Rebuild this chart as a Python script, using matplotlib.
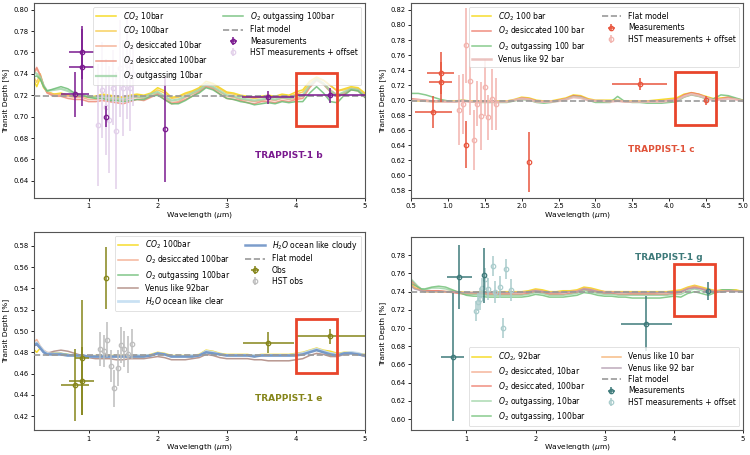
import matplotlib
matplotlib.use("Agg")
import matplotlib.pyplot as plt
from matplotlib.patches import Rectangle

plt.rcParams['font.family'] = ['DejaVu Sans']
plt.rcParams['font.size'] = 5.5

# ---------------- common wavelength grid of the model spectra (micron) ----------------
wl = [0.2, 0.25, 0.3, 0.35, 0.4, 0.5, 0.6, 0.7, 0.8, 0.9, 1.0, 1.1, 1.2, 1.3, 1.4, 1.5, 1.6,
      1.7, 1.8, 1.9, 2.0, 2.1, 2.2, 2.3, 2.4, 2.5, 2.6, 2.7, 2.8, 2.9, 3.0, 3.1, 3.2, 3.3,
      3.4, 3.5, 3.6, 3.7, 3.8, 3.9, 4.0, 4.1, 4.2, 4.3, 4.4, 4.5, 4.6, 4.7, 4.8, 4.9, 5.0]

# ---------------- TRAPPIST-1 b ----------------
b_co2_10 = [0.735, 0.728, 0.736, 0.727, 0.723, 0.721, 0.722, 0.720, 0.719, 0.720, 0.718, 0.719, 0.721, 0.720, 0.719, 0.718, 0.720,
            0.721, 0.720, 0.722, 0.727, 0.724, 0.718, 0.719, 0.722, 0.724, 0.727, 0.733, 0.731, 0.727, 0.723, 0.722, 0.720, 0.719,
            0.718, 0.719, 0.720, 0.719, 0.721, 0.720, 0.723, 0.725, 0.733, 0.737, 0.734, 0.729, 0.724, 0.726, 0.728, 0.727, 0.722]
b_co2_100 = [0.738, 0.732, 0.740, 0.729, 0.723, 0.721, 0.721, 0.720, 0.719, 0.719, 0.718, 0.719, 0.720, 0.719, 0.718, 0.718, 0.719,
             0.720, 0.719, 0.721, 0.725, 0.722, 0.717, 0.718, 0.721, 0.723, 0.726, 0.731, 0.730, 0.726, 0.722, 0.721, 0.719, 0.718,
             0.717, 0.718, 0.719, 0.718, 0.720, 0.719, 0.721, 0.723, 0.731, 0.736, 0.734, 0.729, 0.724, 0.725, 0.727, 0.726, 0.721]
b_o2des_10 = [0.738, 0.745, 0.738, 0.728, 0.723, 0.720, 0.720, 0.719, 0.718, 0.718, 0.716, 0.716, 0.717, 0.716, 0.716, 0.715, 0.717,
              0.718, 0.717, 0.719, 0.722, 0.718, 0.713, 0.714, 0.718, 0.721, 0.724, 0.729, 0.727, 0.723, 0.719, 0.718, 0.716, 0.715,
              0.714, 0.715, 0.716, 0.715, 0.717, 0.716, 0.717, 0.719, 0.728, 0.735, 0.731, 0.725, 0.720, 0.722, 0.726, 0.725, 0.719]
b_o2des_100 = [0.740, 0.746, 0.739, 0.729, 0.722, 0.719, 0.719, 0.717, 0.716, 0.716, 0.714, 0.714, 0.715, 0.714, 0.713, 0.712, 0.714,
               0.716, 0.715, 0.718, 0.721, 0.716, 0.712, 0.713, 0.716, 0.719, 0.723, 0.728, 0.726, 0.721, 0.717, 0.716, 0.715, 0.713,
               0.712, 0.714, 0.714, 0.713, 0.715, 0.714, 0.716, 0.717, 0.727, 0.734, 0.730, 0.723, 0.719, 0.721, 0.725, 0.724, 0.718]
b_o2out_10 = [0.742, 0.740, 0.737, 0.729, 0.724, 0.725, 0.726, 0.724, 0.721, 0.720, 0.719, 0.718, 0.719, 0.717, 0.717, 0.716, 0.718,
              0.719, 0.718, 0.721, 0.723, 0.719, 0.715, 0.716, 0.719, 0.722, 0.725, 0.730, 0.728, 0.724, 0.720, 0.719, 0.717, 0.716,
              0.715, 0.716, 0.717, 0.716, 0.718, 0.717, 0.719, 0.720, 0.729, 0.735, 0.731, 0.724, 0.720, 0.723, 0.726, 0.725, 0.719]
b_o2out_100 = [0.737, 0.738, 0.735, 0.728, 0.724, 0.726, 0.728, 0.726, 0.722, 0.720, 0.718, 0.717, 0.717, 0.715, 0.715, 0.714, 0.715,
               0.716, 0.716, 0.719, 0.720, 0.716, 0.712, 0.712, 0.715, 0.719, 0.722, 0.727, 0.725, 0.721, 0.717, 0.716, 0.714, 0.713,
               0.711, 0.712, 0.713, 0.712, 0.714, 0.713, 0.714, 0.714, 0.722, 0.728, 0.722, 0.714, 0.713, 0.720, 0.725, 0.724, 0.718]
b_flat = 0.719
b_obs_x = [0.8, 0.9, 0.9, 1.25, 2.1, 3.6, 4.5]
b_obs_y = [0.721, 0.760, 0.746, 0.700, 0.688, 0.718, 0.720]
b_obs_xerr = [0.2, 0.18, 0.18, 0.0, 0.0, 0.38, 0.5]
b_obs_yerr = [0.021, 0.025, 0.036, 0.010, 0.049, 0.006, 0.007]
b_hst_x = [1.14, 1.20, 1.25, 1.30, 1.35, 1.40, 1.45, 1.50, 1.55, 1.60, 1.65]
b_hst_y = [0.692, 0.725, 0.709, 0.697, 0.727, 0.687, 0.745, 0.727, 0.748, 0.727, 0.740]
b_hst_yerr = [0.057, 0.045, 0.045, 0.050, 0.035, 0.055, 0.045, 0.045, 0.050, 0.040, 0.030]

# ---------------- TRAPPIST-1 c ----------------
c_co2_100 = [0.700, 0.700, 0.700, 0.700, 0.700, 0.700, 0.699, 0.699, 0.698, 0.698, 0.699, 0.699, 0.700, 0.699, 0.699, 0.699, 0.699,
             0.699, 0.699, 0.701, 0.704, 0.703, 0.700, 0.699, 0.699, 0.701, 0.703, 0.707, 0.706, 0.702, 0.700, 0.700, 0.700, 0.700,
             0.699, 0.699, 0.699, 0.699, 0.700, 0.701, 0.702, 0.703, 0.708, 0.710, 0.708, 0.705, 0.702, 0.703, 0.704, 0.702, 0.700]
c_o2des_100 = [0.704, 0.705, 0.704, 0.703, 0.702, 0.702, 0.701, 0.700, 0.699, 0.699, 0.698, 0.698, 0.699, 0.698, 0.698, 0.698, 0.698,
               0.698, 0.698, 0.700, 0.703, 0.702, 0.699, 0.698, 0.698, 0.700, 0.702, 0.706, 0.705, 0.701, 0.699, 0.699, 0.699, 0.699,
               0.698, 0.698, 0.698, 0.698, 0.699, 0.699, 0.700, 0.701, 0.707, 0.710, 0.708, 0.704, 0.701, 0.702, 0.704, 0.702, 0.699]
c_o2out_100 = [0.705, 0.706, 0.707, 0.708, 0.708, 0.709, 0.709, 0.707, 0.704, 0.701, 0.699, 0.698, 0.700, 0.698, 0.697, 0.697, 0.697,
               0.697, 0.697, 0.699, 0.701, 0.700, 0.697, 0.696, 0.697, 0.699, 0.701, 0.705, 0.704, 0.700, 0.697, 0.697, 0.697, 0.705,
               0.698, 0.697, 0.697, 0.696, 0.696, 0.696, 0.697, 0.698, 0.704, 0.707, 0.705, 0.702, 0.702, 0.707, 0.706, 0.703, 0.700]
c_venus_92 = [0.701, 0.702, 0.702, 0.701, 0.701, 0.700, 0.700, 0.699, 0.698, 0.698, 0.698, 0.698, 0.699, 0.698, 0.698, 0.698, 0.698,
              0.698, 0.698, 0.700, 0.702, 0.701, 0.698, 0.698, 0.698, 0.699, 0.701, 0.704, 0.703, 0.700, 0.699, 0.699, 0.698, 0.699,
              0.698, 0.698, 0.698, 0.698, 0.698, 0.698, 0.699, 0.700, 0.705, 0.708, 0.706, 0.703, 0.700, 0.701, 0.702, 0.701, 0.699]
c_flat = 0.699
c_obs_x = [0.8, 0.9, 0.9, 1.25, 2.1, 3.6, 4.5]
c_obs_y = [0.684, 0.736, 0.724, 0.641, 0.618, 0.721, 0.700]
c_obs_xerr = [0.25, 0.18, 0.15, 0.0, 0.0, 0.37, 0.0]
c_obs_yerr = [0.021, 0.028, 0.027, 0.031, 0.040, 0.008, 0.006]
c_hst_x = [1.15, 1.20, 1.25, 1.30, 1.35, 1.40, 1.45, 1.50, 1.55, 1.60, 1.65]
c_hst_y = [0.687, 0.695, 0.773, 0.725, 0.647, 0.695, 0.679, 0.717, 0.677, 0.701, 0.695]
c_hst_yerr = [0.046, 0.040, 0.050, 0.045, 0.040, 0.030, 0.045, 0.038, 0.030, 0.040, 0.035]

# ---------------- TRAPPIST-1 e ----------------
e_co2_100 = [0.483, 0.480, 0.484, 0.481, 0.479, 0.478, 0.478, 0.477, 0.477, 0.476, 0.476, 0.477, 0.477, 0.477, 0.477, 0.477, 0.477,
             0.477, 0.477, 0.478, 0.480, 0.479, 0.477, 0.477, 0.477, 0.477, 0.478, 0.482, 0.481, 0.479, 0.478, 0.478, 0.478, 0.478,
             0.477, 0.478, 0.478, 0.478, 0.478, 0.478, 0.479, 0.480, 0.482, 0.484, 0.482, 0.481, 0.479, 0.480, 0.480, 0.479, 0.478]
e_o2des_100 = [0.489, 0.492, 0.486, 0.482, 0.480, 0.479, 0.479, 0.478, 0.477, 0.477, 0.476, 0.476, 0.477, 0.476, 0.476, 0.476, 0.476,
               0.476, 0.476, 0.477, 0.479, 0.478, 0.476, 0.476, 0.476, 0.476, 0.477, 0.481, 0.480, 0.478, 0.477, 0.477, 0.477, 0.477,
               0.476, 0.477, 0.477, 0.477, 0.477, 0.477, 0.478, 0.479, 0.481, 0.483, 0.481, 0.479, 0.478, 0.479, 0.480, 0.479, 0.477]
e_o2out_100 = [0.487, 0.489, 0.485, 0.481, 0.479, 0.479, 0.479, 0.478, 0.477, 0.477, 0.476, 0.476, 0.476, 0.476, 0.476, 0.476, 0.476,
               0.476, 0.476, 0.477, 0.479, 0.478, 0.476, 0.476, 0.476, 0.476, 0.477, 0.480, 0.479, 0.478, 0.477, 0.477, 0.477, 0.477,
               0.476, 0.477, 0.477, 0.477, 0.477, 0.477, 0.477, 0.478, 0.481, 0.482, 0.480, 0.479, 0.478, 0.479, 0.479, 0.478, 0.477]
e_venus_92 = [0.486, 0.487, 0.484, 0.480, 0.479, 0.481, 0.482, 0.481, 0.479, 0.477, 0.475, 0.474, 0.474, 0.474, 0.473, 0.473, 0.474,
              0.474, 0.474, 0.475, 0.476, 0.475, 0.473, 0.473, 0.473, 0.474, 0.475, 0.478, 0.477, 0.475, 0.474, 0.474, 0.474, 0.474,
              0.473, 0.473, 0.472, 0.472, 0.472, 0.472, 0.473, 0.474, 0.477, 0.479, 0.478, 0.476, 0.476, 0.478, 0.479, 0.478, 0.476]
e_h2o_clear = [0.487, 0.489, 0.485, 0.481, 0.479, 0.478, 0.478, 0.477, 0.477, 0.477, 0.476, 0.476, 0.477, 0.476, 0.476, 0.476, 0.477,
               0.477, 0.477, 0.477, 0.479, 0.478, 0.476, 0.476, 0.476, 0.477, 0.477, 0.481, 0.480, 0.478, 0.477, 0.477, 0.477, 0.477,
               0.477, 0.477, 0.477, 0.477, 0.477, 0.477, 0.478, 0.479, 0.481, 0.483, 0.481, 0.479, 0.478, 0.479, 0.480, 0.479, 0.477]
e_h2o_cloudy = [0.486, 0.488, 0.484, 0.480, 0.478, 0.478, 0.478, 0.477, 0.477, 0.477, 0.476, 0.476, 0.476, 0.476, 0.476, 0.476, 0.476,
                0.476, 0.476, 0.477, 0.479, 0.478, 0.476, 0.476, 0.476, 0.476, 0.477, 0.480, 0.479, 0.478, 0.477, 0.477, 0.477, 0.477,
                0.476, 0.477, 0.477, 0.477, 0.477, 0.477, 0.477, 0.478, 0.480, 0.482, 0.480, 0.478, 0.477, 0.479, 0.479, 0.478, 0.477]
e_flat = 0.477
e_obs_x = [0.8, 0.9, 0.9, 1.25, 3.6, 4.5]
e_obs_y = [0.449, 0.475, 0.453, 0.550, 0.489, 0.495]
e_obs_xerr = [0.2, 0.1, 0.18, 0.0, 0.37, 0.5]
e_obs_yerr = [0.034, 0.054, 0.032, 0.029, 0.010, 0.007]
e_hst_x = [1.17, 1.22, 1.27, 1.32, 1.37, 1.43, 1.47, 1.52, 1.57, 1.63]
e_hst_y = [0.483, 0.481, 0.492, 0.467, 0.446, 0.465, 0.487, 0.483, 0.478, 0.488]
e_hst_yerr = [0.016, 0.015, 0.016, 0.015, 0.017, 0.017, 0.017, 0.017, 0.017, 0.014]

# ---------------- TRAPPIST-1 g ----------------
g_co2_92 = [0.750, 0.744, 0.743, 0.741, 0.740, 0.740, 0.740, 0.740, 0.740, 0.740, 0.739, 0.739, 0.740, 0.740, 0.739, 0.740, 0.740,
            0.740, 0.740, 0.741, 0.743, 0.742, 0.740, 0.740, 0.741, 0.741, 0.742, 0.745, 0.744, 0.742, 0.740, 0.740, 0.740, 0.740,
            0.740, 0.740, 0.740, 0.740, 0.740, 0.740, 0.741, 0.742, 0.745, 0.747, 0.745, 0.743, 0.741, 0.742, 0.742, 0.742, 0.740]
g_o2des_10 = [0.752, 0.748, 0.745, 0.742, 0.741, 0.741, 0.741, 0.740, 0.740, 0.739, 0.738, 0.738, 0.739, 0.738, 0.738, 0.738, 0.738,
              0.739, 0.739, 0.739, 0.741, 0.740, 0.738, 0.738, 0.739, 0.740, 0.741, 0.743, 0.742, 0.740, 0.739, 0.739, 0.739, 0.739,
              0.738, 0.738, 0.738, 0.738, 0.739, 0.739, 0.739, 0.740, 0.744, 0.746, 0.744, 0.741, 0.740, 0.741, 0.741, 0.741, 0.740]
g_o2des_100 = [0.753, 0.749, 0.745, 0.742, 0.741, 0.741, 0.741, 0.740, 0.739, 0.738, 0.737, 0.737, 0.738, 0.737, 0.737, 0.737, 0.737,
               0.737, 0.737, 0.738, 0.740, 0.739, 0.737, 0.737, 0.737, 0.738, 0.739, 0.742, 0.741, 0.739, 0.738, 0.738, 0.737, 0.737,
               0.737, 0.737, 0.737, 0.737, 0.737, 0.737, 0.738, 0.739, 0.743, 0.745, 0.743, 0.740, 0.739, 0.740, 0.741, 0.741, 0.740]
g_o2out_10 = [0.754, 0.750, 0.746, 0.743, 0.742, 0.744, 0.744, 0.743, 0.741, 0.739, 0.737, 0.737, 0.737, 0.736, 0.736, 0.736, 0.736,
              0.736, 0.736, 0.737, 0.739, 0.738, 0.736, 0.736, 0.736, 0.737, 0.738, 0.741, 0.740, 0.738, 0.737, 0.737, 0.736, 0.736,
              0.736, 0.736, 0.736, 0.736, 0.736, 0.736, 0.737, 0.737, 0.741, 0.743, 0.741, 0.739, 0.740, 0.742, 0.742, 0.741, 0.740]
g_o2out_100 = [0.749, 0.747, 0.745, 0.743, 0.743, 0.745, 0.746, 0.745, 0.742, 0.739, 0.736, 0.735, 0.735, 0.734, 0.734, 0.734, 0.734,
               0.734, 0.734, 0.735, 0.737, 0.736, 0.734, 0.734, 0.734, 0.735, 0.736, 0.739, 0.738, 0.736, 0.735, 0.735, 0.734, 0.734,
               0.733, 0.733, 0.733, 0.733, 0.733, 0.734, 0.735, 0.734, 0.738, 0.740, 0.738, 0.736, 0.739, 0.742, 0.742, 0.741, 0.740]
g_venus_10 = [0.748, 0.745, 0.743, 0.741, 0.740, 0.740, 0.740, 0.740, 0.740, 0.739, 0.739, 0.739, 0.739, 0.739, 0.739, 0.739, 0.739,
              0.739, 0.739, 0.740, 0.742, 0.741, 0.739, 0.739, 0.740, 0.740, 0.741, 0.744, 0.743, 0.741, 0.740, 0.740, 0.739, 0.739,
              0.739, 0.739, 0.739, 0.739, 0.739, 0.739, 0.740, 0.741, 0.744, 0.746, 0.744, 0.742, 0.741, 0.741, 0.741, 0.741, 0.740]
g_venus_92 = [0.746, 0.743, 0.742, 0.741, 0.740, 0.740, 0.740, 0.740, 0.740, 0.739, 0.739, 0.739, 0.739, 0.739, 0.739, 0.739, 0.739,
              0.739, 0.739, 0.740, 0.741, 0.740, 0.739, 0.739, 0.739, 0.740, 0.740, 0.743, 0.742, 0.740, 0.739, 0.739, 0.739, 0.739,
              0.739, 0.739, 0.739, 0.739, 0.739, 0.739, 0.739, 0.740, 0.743, 0.744, 0.743, 0.741, 0.740, 0.740, 0.741, 0.740, 0.740]
g_flat = 0.740
g_obs_x = [0.8, 0.9, 1.25, 3.6, 4.5]
g_obs_y = [0.668, 0.756, 0.758, 0.705, 0.741]
g_obs_xerr = [0.17, 0.18, 0.0, 0.37, 0.0]
g_obs_yerr = [0.070, 0.035, 0.030, 0.030, 0.010]
g_hst_x = [1.14, 1.17, 1.20, 1.22, 1.27, 1.31, 1.38, 1.41, 1.48, 1.53, 1.58, 1.64]
g_hst_y = [0.719, 0.729, 0.732, 0.744, 0.754, 0.743, 0.768, 0.740, 0.745, 0.700, 0.765, 0.742]
g_hst_yerr = [0.011, 0.010, 0.012, 0.011, 0.012, 0.012, 0.011, 0.012, 0.012, 0.011, 0.011, 0.012]

# ---------------- drawing ----------------
fig = plt.figure(figsize=(7.5, 4.55), dpi=100)
ax_b = fig.add_axes([0.0453, 0.565, 0.4413, 0.428])
ax_c = fig.add_axes([0.548, 0.565, 0.4427, 0.428])
ax_e = fig.add_axes([0.0453, 0.055, 0.4413, 0.435])
ax_g = fig.add_axes([0.548, 0.055, 0.4427, 0.424])

def models(ax, specs):
    for y, lab, col, lw, al in specs:
        ax.plot(wl, y, color=col, lw=lw, alpha=al, label=lab)

def flat(ax, val):
    ax.axhline(val, color='#999999', ls='--', lw=1.2, label='Flat model', zorder=3)

def obs(ax, x, y, xe, ye, hx, hy, hye, col, hcol, lab, hlab, mk='o'):
    ax.errorbar(x, y, xerr=xe, yerr=ye, fmt=mk, color=col, mfc='none', ms=3.2, mew=0.9,
                elinewidth=1.1, capsize=0, label=lab, zorder=5)
    ax.errorbar(hx, hy, yerr=hye, fmt=mk, color=hcol, mfc='none', ms=3.2, mew=0.9,
                elinewidth=1.1, capsize=0, label=hlab, zorder=4)

def finish(ax, xlim, ylim, yticks, xticks, xtl, title, tx, ty, tcol, rect, legloc, ylab_x):
    ax.set_xlim(*xlim)
    ax.set_ylim(*ylim)
    ax.set_yticks(yticks)
    ax.set_yticklabels(['%.2f' % v for v in yticks])
    ax.set_xticks(xticks)
    ax.set_xticklabels(xtl)
    ax.tick_params(labelsize=4.9, length=2.5, width=0.6, pad=1.5)
    ax.set_xlabel(r'Wavelength ($\mu$m)', fontsize=5.4, labelpad=0.5)
    ax.set_ylabel('Transit Depth [%]', fontsize=5.3)
    ax.yaxis.set_label_coords(ylab_x, 0.5)
    for s in ax.spines.values():
        s.set_color('#555555')
        s.set_linewidth(0.8)
    ax.text(tx, ty, title, color=tcol, fontsize=6.5, fontweight='bold', ha='center', va='center')
    ax.add_patch(Rectangle((rect[0], rect[1]), rect[2], rect[3], fill=False,
                           edgecolor='#e8452b', lw=2.0, zorder=6))
    leg = ax.legend(loc=legloc, ncol=2, fontsize=5.5, handlelength=2.6, columnspacing=2.0,
                    labelspacing=0.3, borderpad=0.4, handletextpad=0.9)
    leg.get_frame().set_linewidth(0.5)

# b
models(ax_b, [
    (b_co2_10, r'$CO_2$ 10bar', '#f5d60a', 1.1, 0.85),
    (b_co2_100, r'$CO_2$ 100bar', '#f7c843', 1.1, 0.85),
    (b_o2des_10, r'$O_2$ desiccated 10bar', '#f4a98a', 1.1, 0.85),
    (b_o2des_100, r'$O_2$ desiccated 100bar', '#ee8b78', 1.1, 0.85),
    (b_o2out_10, r'$O_2$ outgassing 10bar', '#9cd3a4', 1.6, 0.8),
    (b_o2out_100, r'$O_2$ outgassing 100bar', '#6cbd74', 1.1, 0.85),
])
flat(ax_b, b_flat)
obs(ax_b, b_obs_x, b_obs_y, b_obs_xerr, b_obs_yerr, b_hst_x, b_hst_y, b_hst_yerr,
    '#7a1a8f', '#e2d0ea', 'Measurements', 'HST measurements + offset')
finish(ax_b, (0.21, 5.0), (0.624, 0.806), [0.64, 0.66, 0.68, 0.70, 0.72, 0.74, 0.76, 0.78, 0.80],
       [1, 2, 3, 4, 5], ['1', '2', '3', '4', '5'], 'TRAPPIST-1 b', 3.9, 0.664, '#7a1a8f',
       (4.0, 0.691, 0.6, 0.050), 'upper right', -0.074)

# c
models(ax_c, [
    (c_co2_100, r'$CO_2$ 100 bar', '#f5d60a', 1.1, 0.85),
    (c_o2des_100, r'$O_2$ desiccated 100 bar', '#ee7a6a', 1.1, 0.85),
    (c_o2out_100, r'$O_2$ outgassing 100 bar', '#74c27a', 1.1, 0.85),
    (c_venus_92, r'Venus like 92 bar', '#e8b8b4', 1.8, 0.85),
])
flat(ax_c, c_flat)
obs(ax_c, c_obs_x, c_obs_y, c_obs_xerr, c_obs_yerr, c_hst_x, c_hst_y, c_hst_yerr,
    '#e8553d', '#f2b3ad', 'Measurements', 'HST measurements + offset')
c_yt = [0.58, 0.60, 0.62, 0.64, 0.66, 0.68, 0.70, 0.72, 0.74, 0.76, 0.78, 0.80, 0.82]
c_xt = [0.5, 1.0, 1.5, 2.0, 2.5, 3.0, 3.5, 4.0, 4.5, 5.0]
finish(ax_c, (0.5, 5.0), (0.570, 0.829), c_yt, c_xt, ['%.1f' % v for v in c_xt],
       'TRAPPIST-1 c', 3.89, 0.634, '#e0533a', (4.08, 0.667, 0.56, 0.070), 'upper right', -0.074)

# e
models(ax_e, [
    (e_co2_100, r'$CO_2$ 100bar', '#f5d60a', 1.1, 0.85),
    (e_o2des_100, r'$O_2$ desiccated 100bar', '#f4a98a', 1.1, 0.85),
    (e_o2out_100, r'$O_2$ outgassing 100bar', '#6cbd74', 1.1, 0.85),
    (e_venus_92, r'Venus like 92bar', '#b08c84', 1.1, 0.9),
    (e_h2o_clear, r'$H_2O$ ocean like clear', '#c4def2', 2.0, 0.9),
    (e_h2o_cloudy, r'$H_2O$ ocean like cloudy', '#6e92c6', 1.8, 0.9),
])
flat(ax_e, e_flat)
obs(ax_e, e_obs_x, e_obs_y, e_obs_xerr, e_obs_yerr, e_hst_x, e_hst_y, e_hst_yerr,
    '#85851a', '#bdbdbd', 'Obs', 'HST obs')
finish(ax_e, (0.21, 5.0), (0.407, 0.593), [0.42, 0.44, 0.46, 0.48, 0.50, 0.52, 0.54, 0.56, 0.58],
       [1, 2, 3, 4, 5], ['1', '2', '3', '4', '5'], 'TRAPPIST-1 e', 3.9, 0.437, '#85851a',
       (4.0, 0.461, 0.6, 0.050), 'upper right', -0.074)

# g
models(ax_g, [
    (g_co2_92, r'$CO_2$, 92bar', '#f5d60a', 1.1, 0.85),
    (g_o2des_10, r'$O_2$ desiccated, 10bar', '#f4a98a', 1.1, 0.85),
    (g_o2des_100, r'$O_2$ desiccated, 100bar', '#ee7a6a', 1.1, 0.85),
    (g_o2out_10, r'$O_2$ outgassing, 10bar', '#9cd3a4', 1.1, 0.85),
    (g_o2out_100, r'$O_2$ outgassing, 100bar', '#74c27a', 1.1, 0.85),
    (g_venus_10, r'Venus like 10 bar', '#f5b070', 1.1, 0.85),
    (g_venus_92, r'Venus like 92 bar', '#b29aae', 1.1, 0.85),
])
flat(ax_g, g_flat)
obs(ax_g, g_obs_x, g_obs_y, g_obs_xerr, g_obs_yerr, g_hst_x, g_hst_y, g_hst_yerr,
    '#3e7a7a', '#a9cccc', 'Measurements', 'HST measurements + offset')
finish(ax_g, (0.2, 5.0), (0.588, 0.800), [0.60, 0.62, 0.64, 0.66, 0.68, 0.70, 0.72, 0.74, 0.76, 0.78],
       [1, 2, 3, 4, 5], ['1', '2', '3', '4', '5'], 'TRAPPIST-1 g', 3.92, 0.778, '#3e7a7a',
       (4.0, 0.713, 0.6, 0.057), 'lower right', -0.074)

fig.savefig('out.png', dpi=100)
